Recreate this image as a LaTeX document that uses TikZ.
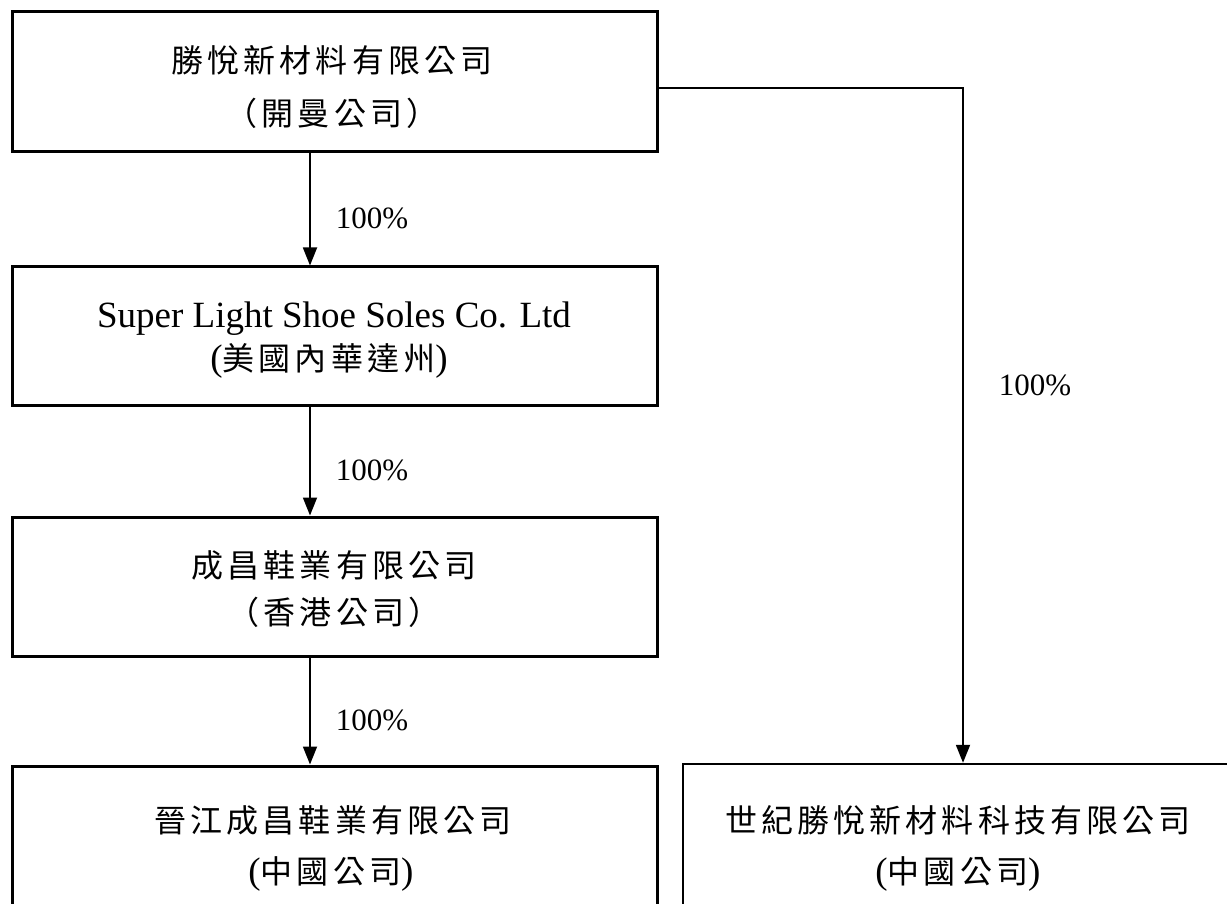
\documentclass[tikz,border=0pt]{standalone}
\usepackage{fontspec}
\setmainfont{Liberation Serif}
\newfontfamily\cjk[LetterSpace=13]{Noto Sans CJK TC}
\usetikzlibrary{arrows.meta,calc}
\tikzset{
  box/.style={draw, line width=3pt, inner sep=0pt},
  conn/.style={line width=1.8pt},
  arr/.style={conn, -{Triangle[length=18pt,width=14pt]}},
  pct/.style={font=\fontsize{31}{36}\selectfont, inner sep=0pt},
  cjktxt/.style={font=\fontsize{32}{38}\selectfont\cjk, inner sep=0pt},
  lattxt/.style={font=\fontsize{37}{44}\selectfont, inner sep=0pt},
}
\begin{document}
\begin{tikzpicture}[x=1pt,y=-1pt]
\useasboundingbox (0,0) rectangle (1227,904);
% boxes
\node[box, minimum width=645pt, minimum height=140pt] (b1) at (334.5,82) {};
\node[box, minimum width=645pt, minimum height=138pt] (b2) at (334.5,336) {};
\node[box, minimum width=645pt, minimum height=139pt] (b3) at (334.5,586.5) {};
\node[box, minimum width=645pt, minimum height=150pt] (b4) at (334.5,841) {};
\node[box, line width=2.4pt, minimum width=560pt, minimum height=152pt] (b5) at (963,840) {};
% texts
\node[cjktxt] (t1a) at (332,60) {勝悅新材料有限公司};
\node[cjktxt] (t1b) at (332,113) {（開曼公司）};
\node[lattxt, anchor=base] (t2a) at (334,327) {Super Light Shoe Soles Co. Ltd};
\node[inner sep=0pt] (t2b) at (329,361) {\fontsize{37}{44}\selectfont(\fontsize{32}{38}\selectfont\cjk 美國內華達州\fontsize{37}{44}\selectfont\rmfamily)};
\node[cjktxt] (t3a) at (334,565) {成昌鞋業有限公司};
\node[cjktxt] (t3b) at (334,612) {（香港公司）};
\node[cjktxt] (t4a) at (333,820) {晉江成昌鞋業有限公司};
\node[inner sep=0pt] (t4b) at (331,874) {\fontsize{37}{44}\selectfont(\fontsize{32}{38}\selectfont\cjk 中國公司\fontsize{37}{44}\selectfont\rmfamily)};
\node[cjktxt] (t5a) at (958,820) {世紀勝悅新材料科技有限公司};
\node[inner sep=0pt] (t5b) at (958,874) {\fontsize{37}{44}\selectfont(\fontsize{32}{38}\selectfont\cjk 中國公司\fontsize{37}{44}\selectfont\rmfamily)};
% connectors
\coordinate (ax) at (310,0);
\coordinate (rx) at (963,88);
\draw[arr] (b1.south -| ax) -- (b2.north -| ax);
\draw[arr] (b2.south -| ax) -- (b3.north -| ax);
\draw[arr] (b3.south -| ax) -- (b4.north -| ax);
\draw[line width=2.8pt] (b1.east |- rx) -- ([xshift=0.9pt]rx);
\draw[arr] (rx) -- (b5.north -| rx);
% labels
\node[pct] (p1) at (372,218) {100\%};
\node[pct] (p2) at (372,470) {100\%};
\node[pct] (p3) at (372,720) {100\%};
\node[pct] (p4) at (1035,385) {100\%};
\end{tikzpicture}
\end{document}
